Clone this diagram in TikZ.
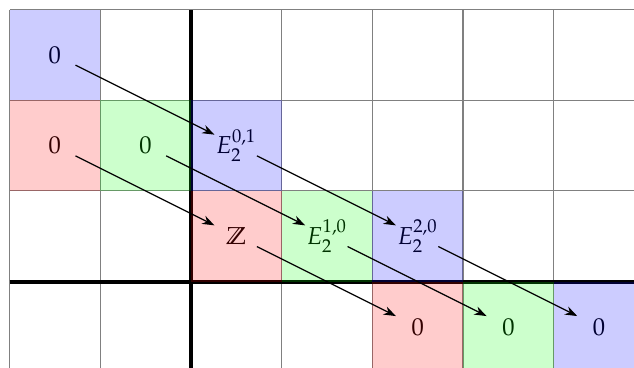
\documentclass[tikz,border=0pt]{standalone}
\usepackage{mathpazo}
\usetikzlibrary{arrows.meta}
\tikzset{
  cell/.style={minimum size=1.3cm, inner sep=0pt, fill opacity=0.2, text opacity=1},
  bluecell/.style={cell, fill=blue, text=blue!20!black},
  redcell/.style={cell, fill=red, text=red!20!black},
  greencell/.style={cell, fill=green, text=green!20!black},
  gridline/.style={gray, line width=0.45pt},
  axis/.style={black, line width=1.6pt},
  diff/.style={-{Stealth[length=5pt,width=3.6pt]}, line width=0.5pt, shorten <=0.33cm, shorten >=0.35cm}
}
\begin{document}
\begin{tikzpicture}[x=1.3cm,y=1.3cm]
\useasboundingbox (-2.105,-0.952) rectangle (4.885,3.105);
\draw[gridline, step=1.3cm] (-2,-1) grid (5,3);
\draw[axis] (-2,0) -- (5,0);
\draw[axis] (0,-1) -- (0,3);
% cells
\node[bluecell] (b1) at (-1.5,2.5) {$0$};
\node[bluecell] (b2) at (0.5,1.5) {$E_2^{0,1}$};
\node[bluecell] (b3) at (2.5,0.5) {$E_2^{2,0}$};
\node[bluecell] (b4) at (4.5,-0.5) {$0$};
\node[redcell] (r1) at (-1.5,1.5) {$0$};
\node[redcell] (r2) at (0.5,0.5) {$\mathbb{Z}$};
\node[redcell] (r3) at (2.5,-0.5) {$0$};
\node[greencell] (g1) at (-0.5,1.5) {$0$};
\node[greencell] (g2) at (1.5,0.5) {$E_2^{1,0}$};
\node[greencell] (g3) at (3.5,-0.5) {$0$};
% differentials
\draw[diff] (b1.center) -- (b2.center);
\draw[diff] (b2.center) -- (b3.center);
\draw[diff] (b3.center) -- (b4.center);
\draw[diff] (r1.center) -- (r2.center);
\draw[diff] (r2.center) -- (r3.center);
\draw[diff] (g1.center) -- (g2.center);
\draw[diff] (g2.center) -- (g3.center);
\end{tikzpicture}
\end{document}
